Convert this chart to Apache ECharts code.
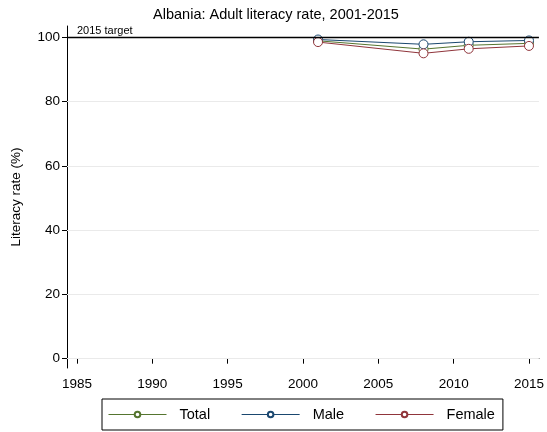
<!DOCTYPE html>
<html><head><meta charset="utf-8">
<script src="https://cdn.jsdelivr.net/npm/echarts@6/dist/echarts.min.js"></script>
<style>html,body{margin:0;padding:0;background:#fff}#c{width:547px;height:432px}</style>
</head><body><div id="c"></div>
<script>
var years = [2001, 2008, 2011, 2015];
var total = [98.9, 96.3, 97.5, 98.1];
var male = [99.3, 97.8, 98.6, 99.0];
var female = [98.5, 95.0, 96.4, 97.3];
var xTicks = [1985, 1990, 1995, 2000, 2005, 2010, 2015];
var yTicks = [0, 20, 40, 60, 80, 100];
var target = 100;

function pairs(v){ return years.map(function(y,i){ return [y, v[i]]; }); }
var F = 'Liberation Sans, Arial, sans-serif';
var chart = echarts.init(document.getElementById('c'), null, {renderer:'canvas'});
function ser(name, data, color, extra){
  var s = {name:name, type:'line', data:pairs(data), symbol:'circle', symbolSize:9,
    lineStyle:{color:color, width:1}, itemStyle:{color:'#fff', borderColor:color, borderWidth:1},
    emphasis:{disabled:true}, z: 3};
  if (extra) Object.assign(s, extra);
  return s;
}
chart.setOption({
  animation:false,
  backgroundColor:'#fff',
  title:{text:'Albania: Adult literacy rate, 2001-2015', left:271, textAlign:'center', top:2,
    textStyle:{fontFamily:F, fontSize:14.5, fontWeight:'normal', color:'#000'}},
  grid:{left:67, right:7, top:26, bottom:64},
  xAxis:{type:'value', min:1984.34, max:2015.66,
    axisLine:{show:true, lineStyle:{color:'#000', width:1}},
    axisTick:{show:true, customValues:xTicks, length:5, lineStyle:{color:'#000'}},
    axisLabel:{customValues:xTicks, formatter:function(v){return String(v);}, fontFamily:F, fontSize:13.5, color:'#000', margin:9},
    splitLine:{show:false}},
  yAxis:{type:'value', min:-2.9, max:103.5,
    name:'Literacy rate (%)', nameLocation:'middle', nameGap:44, nameRotate:90,
    nameTextStyle:{fontFamily:F, fontSize:13.5, color:'#000'},
    axisLine:{show:true, lineStyle:{color:'#000', width:1}},
    axisTick:{show:true, customValues:yTicks, length:5, lineStyle:{color:'#000'}},
    axisLabel:{customValues:yTicks, fontFamily:F, fontSize:13.5, color:'#000', margin:7},
    splitLine:{show:false}},
  legend:{data:['Total','Male','Female'], left:102, bottom:2, orient:'horizontal',
    itemWidth:58, itemHeight:7, itemGap:31, padding:[8,8,8,6],
    borderColor:'#000', borderWidth:1, borderRadius:0,
    lineStyle:{width:1},
    textStyle:{fontFamily:F, fontSize:14.5, color:'#000', padding:[0,0,0,8]}},
  series:[
    {type:'line', data:[], silent:true, z:1,
      markLine:{silent:true, symbol:'none', animation:false,
        lineStyle:{color:'#eaeaea', width:1, type:'solid'}, label:{show:false},
        data: yTicks.slice(0,5).map(function(v){ return {yAxis:v}; })}},
    ser('Total', total, '#55752f'),
    ser('Male', male, '#1a476f'),
    ser('Female', female, '#90353b', {
      markLine:{silent:true, symbol:'none', animation:false,
        lineStyle:{color:'#000', width:1.3, type:'solid'},
        label:{show:true, position:'insideStartTop', formatter:'2015 target', distance:[0,1],
          fontFamily:F, fontSize:11, color:'#000', padding:[0,0,0,10]},
        data:[{yAxis:target}]}})
  ]
});
</script></body></html>
